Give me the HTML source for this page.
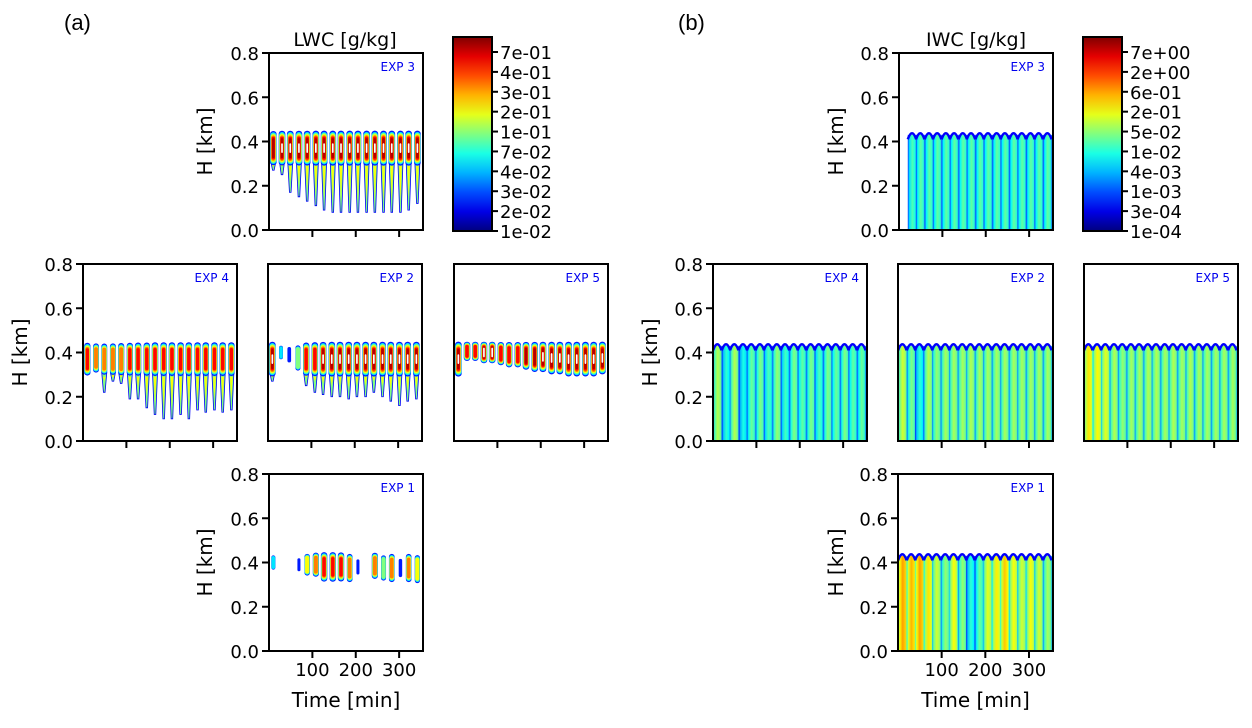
<!DOCTYPE html>
<html><head><meta charset="utf-8">
<style>
body{margin:0;background:#fff;}
svg text{font-family:"DejaVu Sans","Liberation Sans",sans-serif;}
</style></head>
<body>
<svg id="fig" width="1252" height="723" viewBox="0 0 1252 723" xmlns="http://www.w3.org/2000/svg">
<defs id="defs"></defs>
<text x="64" y="30" font-size="22" style="font-family:'Liberation Sans',sans-serif">(a)</text>
<text x="678" y="30" font-size="22" style="font-family:'Liberation Sans',sans-serif">(b)</text>
<text x="345" y="46" font-size="19" text-anchor="middle">LWC [g/kg]</text>
<text x="976" y="46" font-size="19" text-anchor="middle">IWC [g/kg]</text>
<g id="plots"></g>
</svg>
<script>
// ---- data ----
const cycleTimes = [10,30,49,69,88,108,127,147,166,186,205,225,244,264,283,303,322,342];
const timeTicks = [100,200,300];
const hTicks = [0.0,0.2,0.4,0.6,0.8];
const lwcCbarLabels = ["7e-01","4e-01","3e-01","2e-01","1e-01","7e-02","4e-02","3e-02","2e-02","1e-02"];
const iwcCbarLabels = ["7e+00","2e+00","6e-01","2e-01","5e-02","1e-02","4e-03","1e-03","3e-04","1e-04"];

const lwcExp3Bottom = [0.27,0.25,0.17,0.15,0.13,0.11,0.09,0.08,0.08,0.08,0.08,0.08,0.08,0.08,0.08,0.08,0.09,0.12];
const lwcExp3Level  = [0.95,0.97,0.97,0.97,0.97,0.98,0.98,0.98,0.98,0.98,0.98,0.98,0.98,0.98,0.98,0.98,0.98,0.98];
const lwcExp4Bottom = [0.28,0.30,0.22,0.27,0.26,0.19,0.19,0.15,0.12,0.10,0.10,0.12,0.10,0.14,0.13,0.14,0.13,0.14];
const lwcExp4Level  = [0.88,0.8,0.8,0.82,0.85,0.88,0.9,0.9,0.92,0.92,0.92,0.92,0.92,0.92,0.92,0.92,0.92,0.92];
const lwcExp2Bottom = [0.27,0.38,0.33,0.30,0.25,0.22,0.21,0.20,0.20,0.19,0.20,0.20,0.22,0.20,0.18,0.16,0.18,0.19];
const lwcExp2Level  = [0.97,0.35,0.3,0.6,0.9,0.93,0.96,0.97,0.97,0.97,0.97,0.97,0.97,0.97,0.97,0.97,0.97,0.97];
const lwcExp5Bottom = [0.29,0.36,0.36,0.35,0.35,0.34,0.33,0.33,0.32,0.31,0.31,0.30,0.30,0.29,0.29,0.29,0.29,0.30];
const lwcExp5Level  = [0.98,0.94,0.94,0.96,0.96,0.93,0.93,0.93,0.95,0.95,0.97,0.97,0.97,0.97,0.97,0.97,0.97,0.98];
const lwcExp1Bottom = [0.35,0.38,0.38,0.33,0.33,0.33,0.31,0.31,0.31,0.30,0.31,0.32,0.32,0.30,0.30,0.30,0.30,0.29];
const lwcExp1Level  = [0.4,0.0,0.0,0.15,0.7,0.85,0.92,0.93,0.9,0.75,0.15,0.1,0.85,0.6,0.75,0.25,0.75,0.65];

const iwcExp3Level = [0.0,0.45,0.47,0.47,0.47,0.47,0.47,0.47,0.47,0.47,0.47,0.47,0.47,0.47,0.47,0.47,0.47,0.47];
const iwcExp4Level = [0.55,0.42,0.55,0.4,0.48,0.5,0.45,0.52,0.44,0.5,0.47,0.5,0.45,0.5,0.48,0.5,0.47,0.48];
const iwcExp2Level = [0.58,0.5,0.42,0.55,0.52,0.54,0.54,0.54,0.55,0.54,0.54,0.54,0.54,0.54,0.54,0.54,0.54,0.54];
const iwcExp5Level = [0.65,0.63,0.6,0.55,0.52,0.54,0.54,0.55,0.55,0.54,0.55,0.54,0.55,0.54,0.54,0.54,0.54,0.54];
const iwcExp1Level = [0.72,0.7,0.72,0.65,0.58,0.52,0.62,0.52,0.42,0.48,0.6,0.64,0.68,0.62,0.58,0.62,0.58,0.54];

// ---- layout ----
const NS="http://www.w3.org/2000/svg";
const T_MAX=355, H_MAX=0.8, PERIOD=19.5;
const panels = [
 {id:"lwc-exp3",x0:269,x1:423,y0:53,y1:230,lab:"EXP 3",kind:"lwc",b:lwcExp3Bottom,l:lwcExp3Level,ylab:true,yt:205,xt:false},
 {id:"lwc-exp4",x0:83,x1:237,y0:264,y1:441,lab:"EXP 4",kind:"lwc",b:lwcExp4Bottom,l:lwcExp4Level,ylab:true,yt:20,xt:false},
 {id:"lwc-exp2",x0:268,x1:422,y0:264,y1:441,lab:"EXP 2",kind:"lwc",b:lwcExp2Bottom,l:lwcExp2Level,ylab:false,xt:false},
 {id:"lwc-exp5",x0:454,x1:608,y0:264,y1:441,lab:"EXP 5",kind:"lwc",b:lwcExp5Bottom,l:lwcExp5Level,ylab:false,xt:false,band:true},
 {id:"lwc-exp1",x0:269,x1:423,y0:474,y1:651,lab:"EXP 1",kind:"lwc",b:lwcExp1Bottom,l:lwcExp1Level,ylab:true,yt:205,xt:true},
 {id:"iwc-exp3",x0:899,x1:1053,y0:53,y1:230,lab:"EXP 3",kind:"iwc",l:iwcExp3Level,ylab:true,yt:836,xt:false},
 {id:"iwc-exp4",x0:713,x1:867,y0:264,y1:441,lab:"EXP 4",kind:"iwc",l:iwcExp4Level,ylab:true,yt:650,xt:false},
 {id:"iwc-exp2",x0:898,x1:1053,y0:264,y1:441,lab:"EXP 2",kind:"iwc",l:iwcExp2Level,ylab:false,xt:false},
 {id:"iwc-exp5",x0:1084,x1:1238,y0:264,y1:441,lab:"EXP 5",kind:"iwc",l:iwcExp5Level,ylab:false,xt:false},
 {id:"iwc-exp1",x0:898,x1:1053,y0:474,y1:651,lab:"EXP 1",kind:"iwc",l:iwcExp1Level,ylab:true,yt:836,xt:true},
];

function jet(v){v=Math.max(0,Math.min(1,v));
 const c=x=>Math.round(255*Math.max(0,Math.min(1,1.5-Math.abs(x))));
 return `rgb(${c(4*v-3)},${c(4*v-2)},${c(4*v-1)})`;}
function mk(tag,attrs,parent){const e=document.createElementNS(NS,tag);for(const k in attrs)e.setAttribute(k,attrs[k]);parent.appendChild(e);return e;}

const root=document.getElementById('plots');
const defs=document.getElementById('defs');
let gid=0;

panels.forEach(p=>{
 const X=t=>p.x0+t/T_MAX*(p.x1-p.x0);
 const Y=h=>p.y1-h/H_MAX*(p.y1-p.y0);
 const g=mk('g',{},root);
 
 
 const cp='clip'+(gid++);
 const cl=mk('clipPath',{id:cp},defs);
 mk('rect',{x:p.x0,y:p.y0,width:p.x1-p.x0,height:p.y1-p.y0},cl);
 const plot=mk('g',{'clip-path':`url(#${cp})`},g);
 const w=PERIOD/T_MAX*(p.x1-p.x0);
 if(p.kind==="lwc"){
  const layers=[[0.15,0.8,0],[0.35,0.74,0.006],[0.5,0.68,0.011],[0.62,0.6,0.016],[0.75,0.52,0.021],[0.87,0.42,0.027],[0.95,0.32,0.034]];
  cycleTimes.forEach((t,i)=>{
   const lv=p.l[i]; if(lv<=0) return;
   const bot=p.b[i];
   const sc=0.35+0.65*lv;
   const top=0.45;
   let bodyBot=p.band?bot:Math.max(0.29,Math.min(bot,0.35));
   const mid0=(top+bodyBot)/2, half0=(top-bodyBot)/2*(0.4+0.6*lv);
   const cx=X(t);
   const cg=mk('g',{},plot);
   
   
   if(bot<bodyBot-0.01){
    const tw=w*0.6;
    mk('path',{d:`M${cx-tw/2},${Y(bodyBot+0.02)} L${cx+tw/2},${Y(bodyBot+0.02)} L${cx+0.8},${Y(bot)} L${cx-0.8},${Y(bot)} Z`,fill:jet(Math.min(lv,0.5)),stroke:jet(0.12),'stroke-width':0.8},cg);
    if(lv>0.6) mk('path',{d:`M${cx-tw/4},${Y(bodyBot)} L${cx+tw/4},${Y(bodyBot)} L${cx},${Y(bot+0.05)} Z`,fill:jet(0.62)},cg);
   }
   layers.forEach(([v,wf,shr])=>{
    if(v>lv) return;
    const hh=Math.max(0.005,half0-shr*(half0/0.08));
    const ww=w*wf*sc;
    mk('rect',{x:cx-ww/2,y:Y(mid0+hh),width:ww,height:Y(mid0-hh)-Y(mid0+hh),rx:ww/2,ry:Math.min(ww/2,3),fill:jet(v)},cg);
   });
   if(lv>=0.96){
    mk('rect',{x:cx-w*0.1,y:Y(mid0+0.022),width:w*0.2,height:Y(mid0-0.022)-Y(mid0+0.022),rx:1,fill:'#fff'},cg);
   }
  });
 } else {
  cycleTimes.forEach((t,i)=>{
   const lv=p.l[i]; if(lv<=0) return;
   const gr='g'+(gid++);
   const lg=mk('linearGradient',{id:gr,x1:0,y1:0,x2:1,y2:0},defs);
   mk('stop',{offset:0,'stop-color':jet(lv-0.28)},lg);
   mk('stop',{offset:0.18,'stop-color':jet(lv-0.1)},lg);
   mk('stop',{offset:0.5,'stop-color':jet(lv)},lg);
   mk('stop',{offset:0.82,'stop-color':jet(lv-0.05)},lg);
   mk('stop',{offset:1,'stop-color':jet(lv-0.25)},lg);
   const x=X(t)-w/2;
   const r=mk('rect',{x:x,y:Y(0.43),width:w+0.5,height:Y(0)-Y(0.43),fill:`url(#${gr})`},plot);
   
   
   const a=mk('path',{d:`M${x},${Y(0.41)} Q${x+w/2},${Y(0.465)} ${x+w},${Y(0.41)}`,fill:'none',stroke:jet(0.12),'stroke-width':2.5},plot);
   
   
  });
 }
 const fr=mk('rect',{x:p.x0,y:p.y0,width:p.x1-p.x0,height:p.y1-p.y0,fill:'none',stroke:'#000','stroke-width':2},g);
 
 
 const lb=mk('text',{x:p.x1-8,y:p.y0+18,'font-size':12,fill:'#0000ee','text-anchor':'end'},g);
 lb.textContent=p.lab;
 
 
 timeTicks.forEach(tv=>{
  mk('line',{x1:X(tv),x2:X(tv),y1:p.y1,y2:p.y1+7,stroke:'#000','stroke-width':2},g);
  if(p.xt){const tt=mk('text',{x:X(tv),y:p.y1+25,'font-size':18,'text-anchor':'middle'},g);tt.textContent=tv;
   
   }
 });
 if(p.xt){const xl=mk('text',{x:(p.x0+p.x1)/2,y:p.y1+56,'font-size':20,'text-anchor':'middle'},g);xl.textContent='Time [min]';
  
  }
 if(p.ylab){
  hTicks.forEach(hv=>{
   mk('line',{x1:p.x0-7,x2:p.x0,y1:Y(hv),y2:Y(hv),stroke:'#000','stroke-width':2},g);
   const tt=mk('text',{x:p.x0-10,y:Y(hv)+7,'font-size':18,'text-anchor':'end'},g);tt.textContent=hv.toFixed(1);
   
   
  });
  const yl=mk('text',{x:p.yt,y:(p.y0+p.y1)/2,'font-size':20,'text-anchor':'middle',transform:`rotate(-90 ${p.yt} ${(p.y0+p.y1)/2})`,dy:7},g);
  yl.textContent='H [km]';
  
  
 }
});

const cbg='cbgrad';
const lgc=mk('linearGradient',{id:cbg,x1:0,y1:1,x2:0,y2:0},defs);
for(let k=0;k<=10;k++) mk('stop',{offset:k/10,'stop-color':k===0?'#00007f':(k===10?'#7f0000':jet(k/10))},lgc);
[[453,lwcCbarLabels,'lwc-colorbar'],[1083,iwcCbarLabels,'iwc-colorbar']].forEach(([cx,labs,nm])=>{
 const g=mk('g',{},root);
 
 
 mk('rect',{x:cx,y:37,width:39,height:194,fill:`url(#${cbg})`,stroke:'#000','stroke-width':2},g);
 labs.forEach((s,i)=>{
  const y=52+i*(231-52)/(labs.length-1);
  mk('line',{x1:cx+39,x2:cx+45,y1:y,y2:y,stroke:'#000','stroke-width':2},g);
  const t=mk('text',{x:cx+47,y:y+7,'font-size':18},g);t.textContent=s;
  
  
 });
});
</script>
</body></html>
